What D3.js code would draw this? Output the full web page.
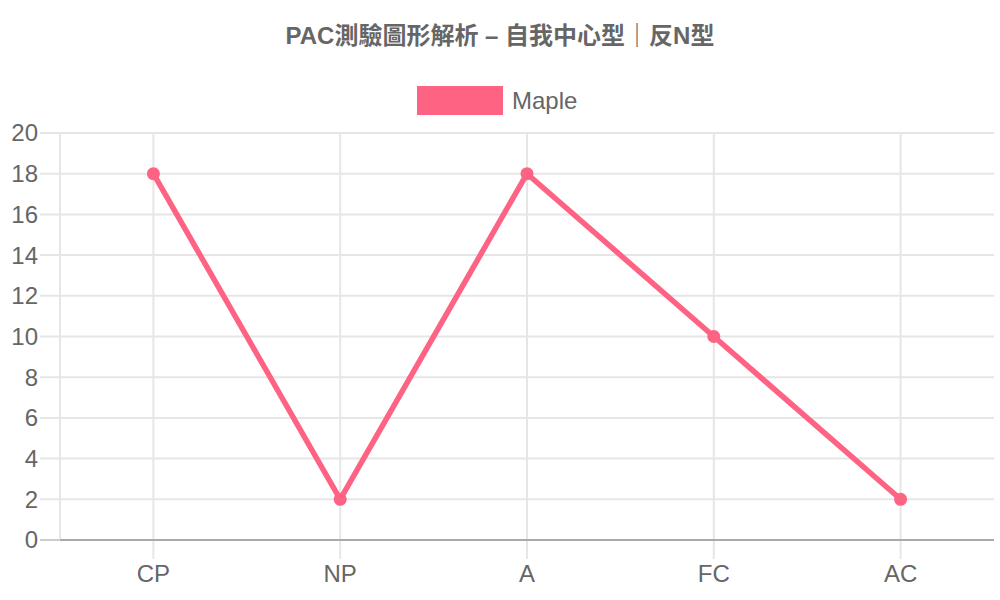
<!DOCTYPE html>
<html>
<head>
<meta charset="utf-8">
<script src="https://cdn.jsdelivr.net/npm/d3@7"></script>
<style>
  body { margin: 0; background: #fff; }
  text { font-family: "Liberation Sans", Arial, "Noto Sans CJK TC", sans-serif; fill: #666; }
</style>
</head>
<body>
<script>
var w = 1000;
var h = 600;

// Data
var categories = ["CP", "NP", "A", "FC", "AC"];
var values = [18, 2, 18, 10, 2];
var seriesName = "Maple";
var yTicks = [0, 2, 4, 6, 8, 10, 12, 14, 16, 18, 20];
var title = "PAC測驗圖形解析 – 自我中心型｜反N型";

var color = "rgb(255,99,132)";
var plotLeft = 60, plotRight = 994, plotTop = 133, plotBottom = 540;

var svg = d3.select("body")
            .append("svg")
            .attr("width", w)
            .attr("height", h);

var xScale = d3.scaleBand()
               .domain(categories)
               .range([plotLeft, plotRight]);

var yScale = d3.scaleLinear()
               .domain([0, 20])
               .range([plotBottom, plotTop]);

function cx(i) { return xScale(categories[i]) + xScale.bandwidth() / 2; }

// horizontal grid lines + y tick labels
svg.selectAll(".hgrid")
    .data(yTicks)
    .enter()
    .append("line")
    .attr("x1", plotLeft - 20)
    .attr("x2", plotRight)
    .attr("y1", function(d) { return yScale(d); })
    .attr("y2", function(d) { return yScale(d); })
    .attr("stroke", function(d) { return d === 0 ? "#ccc" : "#e6e6e6"; })
    .attr("stroke-width", 2);

svg.selectAll(".ylab")
    .data(yTicks)
    .enter()
    .append("text")
    .attr("x", plotLeft - 22)
    .attr("y", function(d) { return yScale(d); })
    .attr("dy", "0.35em")
    .attr("text-anchor", "end")
    .attr("font-size", "24px")
    .text(function(d) { return d; });

// vertical grid lines
svg.append("line")
    .attr("x1", plotLeft).attr("x2", plotLeft)
    .attr("y1", plotTop).attr("y2", plotBottom)
    .attr("stroke", "#e6e6e6")
    .attr("stroke-width", 2);

svg.selectAll(".vgrid")
    .data(categories)
    .enter()
    .append("line")
    .attr("x1", function(d, i) { return cx(i); })
    .attr("x2", function(d, i) { return cx(i); })
    .attr("y1", plotTop)
    .attr("y2", plotBottom + 19)
    .attr("stroke", "#e6e6e6")
    .attr("stroke-width", 2);

// zero line
svg.append("line")
    .attr("x1", plotLeft).attr("x2", plotRight)
    .attr("y1", yScale(0)).attr("y2", yScale(0))
    .attr("stroke", "#aaa")
    .attr("stroke-width", 2);

svg.selectAll(".xlab")
    .data(categories)
    .enter()
    .append("text")
    .attr("x", function(d, i) { return cx(i); })
    .attr("y", 582)
    .attr("text-anchor", "middle")
    .attr("font-size", "24px")
    .text(function(d) { return d; });

// line
var line = d3.line()
    .x(function(d, i) { return cx(i); })
    .y(function(d) { return yScale(d); });

svg.append("path")
    .datum(values)
    .attr("d", line)
    .attr("fill", "none")
    .attr("stroke", color)
    .attr("stroke-width", 5.5)
    .attr("stroke-linejoin", "round");

svg.selectAll(".pt")
    .data(values)
    .enter()
    .append("circle")
    .attr("cx", function(d, i) { return cx(i); })
    .attr("cy", function(d) { return yScale(d); })
    .attr("r", 6.5)
    .attr("fill", color);

// title
svg.append("text")
    .attr("x", 500)
    .attr("y", 44)
    .attr("text-anchor", "middle")
    .attr("font-size", "24px")
    .attr("font-weight", "bold")
    .text(title);

// legend
svg.append("rect")
    .attr("x", 417).attr("y", 86)
    .attr("width", 86).attr("height", 29)
    .attr("fill", color);

svg.append("text")
    .attr("x", 512)
    .attr("y", 101)
    .attr("dy", "0.35em")
    .attr("font-size", "24px")
    .text(seriesName);
</script>
</body>
</html>
